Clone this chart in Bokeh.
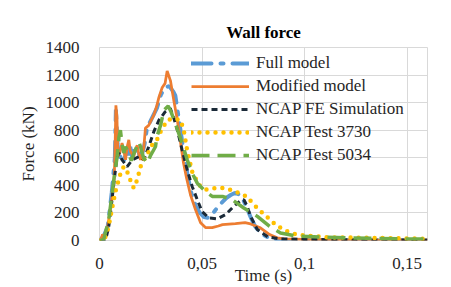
from bokeh.plotting import figure
from bokeh.models import FixedTicker, Legend, LegendItem
from bokeh.embed import file_html
from bokeh.resources import INLINE

# ---- data ----
full_t = [0, 0.002, 0.004, 0.006, 0.0075, 0.008, 0.0088, 0.0095, 0.011, 0.012, 0.013, 0.014, 0.015,
          0.016, 0.017, 0.018, 0.019, 0.020, 0.021, 0.022, 0.023, 0.024, 0.026, 0.028, 0.030, 0.032,
          0.034, 0.036, 0.037, 0.039, 0.041, 0.043, 0.045, 0.047, 0.049, 0.051, 0.053, 0.056, 0.058,
          0.060, 0.062, 0.064, 0.066, 0.068, 0.070, 0.072, 0.074, 0.076, 0.078, 0.080, 0.082, 0.085,
          0.09, 0.10, 0.12, 0.14, 0.16]
full_f = [0, 30, 100, 350, 600, 950, 700, 600, 620, 580, 650, 620, 680,
          600, 660, 620, 640, 600, 640, 700, 800, 840, 900, 960, 1060, 1110,
          1120, 1080, 1050, 850, 650, 470, 330, 250, 200, 170, 165, 210, 250,
          280, 310, 330, 345, 335, 300, 230, 160, 100, 65, 40, 25, 12,
          5, 3, 2, 2, 2]

mod_t = [0, 0.001, 0.0015, 0.002, 0.003, 0.004, 0.005, 0.006, 0.007, 0.0075, 0.008, 0.0085, 0.009,
         0.010, 0.011, 0.012, 0.0127, 0.0135, 0.0143, 0.015, 0.0167, 0.0175, 0.0184, 0.019, 0.020,
         0.021, 0.0216, 0.0224, 0.024, 0.0255, 0.0265, 0.028, 0.029, 0.0306, 0.032, 0.033, 0.0346,
         0.0362, 0.0379, 0.041, 0.0425, 0.0444, 0.0468, 0.0493, 0.0517, 0.055, 0.058, 0.060, 0.0663,
         0.071, 0.0737, 0.0785, 0.083, 0.0867, 0.09, 0.10, 0.12, 0.14, 0.16]
mod_f = [0, 20, 45, 30, 40, 100, 200, 300, 400, 600, 980, 900, 610,
         640, 707, 640, 585, 680, 730, 650, 610, 660, 690, 640, 585,
         640, 670, 815, 835, 880, 910, 980, 1040, 1110, 1140, 1230, 1160,
         1020, 880, 560, 450, 330, 224, 128, 94, 94, 105, 115, 123,
         130, 120, 92, 43, 19, 12, 8, 5, 3, 2]

fe_t = [0, 0.002, 0.003, 0.0045, 0.0054, 0.007, 0.0085, 0.0094, 0.011, 0.0135, 0.016, 0.0192,
        0.0216, 0.024, 0.0265, 0.029, 0.032, 0.0345, 0.036, 0.038, 0.0403, 0.0428, 0.0452, 0.0477,
        0.050, 0.0533, 0.0574, 0.0615, 0.0655, 0.0688, 0.0704, 0.072, 0.0737, 0.077, 0.082, 0.088,
        0.10, 0.12, 0.15, 0.16]
fe_f = [0, 0, 5, 100, 200, 418, 600, 635, 585, 536, 585, 608,
        585, 680, 789, 873, 933, 960, 900, 800, 657, 512, 392, 296,
        211, 164, 157, 188, 248, 290, 296, 250, 175, 79, 27, 12,
        8, 5, 3, 3]

t3730_t = [0, 0.002, 0.003, 0.0045, 0.0062, 0.0078, 0.0094, 0.0105, 0.0119, 0.0135, 0.015, 0.0167,
           0.0184, 0.020, 0.0224, 0.024, 0.0257, 0.028, 0.0298, 0.033, 0.0362, 0.0395, 0.0411,
           0.0428, 0.0452, 0.0484, 0.0517, 0.0566, 0.0615, 0.0663, 0.070, 0.072, 0.0745, 0.0777,
           0.081, 0.085, 0.0883, 0.0924, 0.0964, 0.1045, 0.1127, 0.13, 0.15, 0.16]
t3730_f = [0, 0, 30, 103, 238, 356, 440, 500, 536, 500, 440, 380,
           440, 536, 608, 644, 693, 729, 789, 873, 885, 873, 800,
           650, 500, 404, 368, 380, 380, 356, 330, 320, 272, 224,
           180, 127, 92, 60, 43, 31, 22, 20, 15, 12]

t5034_t = [0, 0.002, 0.0045, 0.007, 0.0086, 0.0095, 0.0102, 0.011, 0.0119, 0.0127, 0.014, 0.0155,
           0.017, 0.0192, 0.020, 0.0215, 0.0233, 0.025, 0.0273, 0.028, 0.0298, 0.0314, 0.0335,
           0.035, 0.037, 0.0403, 0.0428, 0.0452, 0.0477, 0.0517, 0.055, 0.060, 0.0647, 0.0704,
           0.077, 0.083, 0.0883, 0.0964, 0.1045, 0.121, 0.145, 0.16]
t5034_f = [0, 5, 150, 440, 608, 750, 800, 700, 635, 680, 640, 580,
           640, 716, 680, 600, 561, 620, 680, 753, 837, 945, 975,
           930, 849, 705, 585, 488, 416, 356, 320, 320, 296, 236,
           175, 103, 55, 31, 27, 19, 12, 10]

x_ticks = [0, 0.05, 0.1, 0.15]
x_tick_labels = ["0", "0,05", "0,1", "0,15"]
y_ticks = [0, 200, 400, 600, 800, 1000, 1200, 1400]

FONT = "'Liberation Serif', 'Times New Roman', serif"
TXT = "#262626"
GRID = "#d9d9d9"

p = figure(width=451, height=287, output_backend="svg", toolbar_location=None,
           x_range=(0, 0.16), y_range=(0, 1400), title="Wall force",
           min_border_left=99, min_border_right=24, min_border_top=47, min_border_bottom=46)
p.background_fill_color = "white"
p.border_fill_color = "white"
p.outline_line_color = GRID

p.title.text_font = FONT
p.title.text_font_size = "17px"
p.title.text_font_style = "bold"
p.title.text_color = "black"
p.title.align = "center"
p.title.standoff = 12

p.xaxis.ticker = FixedTicker(ticks=x_ticks)
p.xaxis.major_label_overrides = {t: l for t, l in zip(x_ticks, x_tick_labels)}
p.yaxis.ticker = FixedTicker(ticks=y_ticks)
for ax in (p.xaxis, p.yaxis):
    ax.major_tick_line_color = None
    ax.minor_tick_line_color = None
    ax.axis_line_color = None
    ax.major_label_text_font = FONT
    ax.major_label_text_font_size = "17px"
    ax.major_label_text_color = TXT
    ax.axis_label_text_font = FONT
    ax.axis_label_text_font_size = "17px"
    ax.axis_label_text_font_style = "normal"
    ax.axis_label_text_color = TXT
p.xaxis.axis_label = "Time (s)"
p.yaxis.axis_label = "Force (kN)"
p.yaxis.major_label_standoff = 14
p.yaxis.axis_label_standoff = 5
p.xaxis.major_label_standoff = 11
p.xaxis.axis_label_standoff = -6

p.xgrid.grid_line_color = GRID
p.ygrid.grid_line_color = GRID
p.xgrid.ticker = FixedTicker(ticks=x_ticks)
p.ygrid.ticker = FixedTicker(ticks=y_ticks)

r1 = p.line(full_t, full_f, line_color="#5b9bd5", line_width=4, line_dash="20 9 3 9", line_cap="round")
r2 = p.line(mod_t, mod_f, line_color="#ed7d31", line_width=2.75)
r3 = p.line(fe_t, fe_f, line_color="#1b2a38", line_width=3, line_dash="6 4")
r4 = p.line(t3730_t, t3730_f, line_color="#ffc000", line_width=4.5, line_dash="0 8", line_cap="round")
r5 = p.line(t5034_t, t5034_f, line_color="#70ad47", line_width=3.5, line_dash="18 8")

legend = Legend(items=[LegendItem(label="Full model", renderers=[r1]),
                       LegendItem(label="Modified model", renderers=[r2]),
                       LegendItem(label="NCAP FE Simulation", renderers=[r3]),
                       LegendItem(label="NCAP Test 3730", renderers=[r4]),
                       LegendItem(label="NCAP Test 5034", renderers=[r5])],
                location=(92, 75))
legend.background_fill_alpha = 0
legend.border_line_color = None
legend.padding = 0
legend.margin = 0
legend.spacing = 3
legend.glyph_width = 58
legend.glyph_height = 20
legend.label_height = 20
legend.label_standoff = 7
legend.label_text_font = FONT
legend.label_text_font_size = "17px"
legend.label_text_color = TXT
p.add_layout(legend, "center")

open("out.html", "w").write(file_html(p, INLINE))
